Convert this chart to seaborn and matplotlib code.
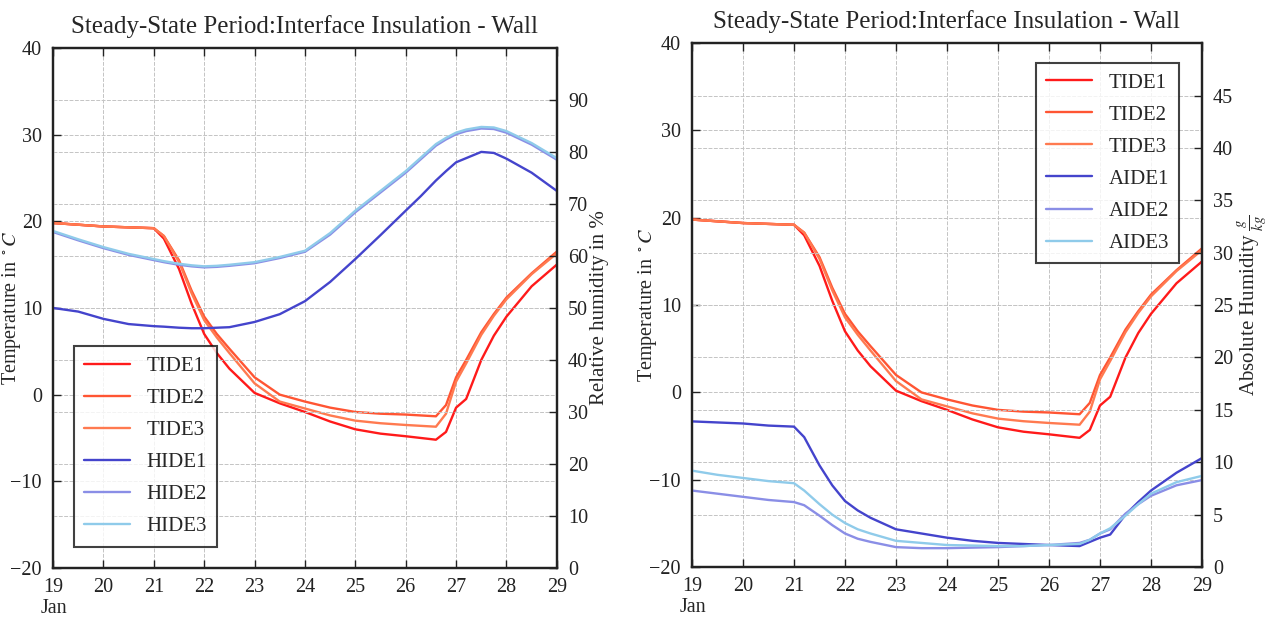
import numpy as np
import pandas as pd
import matplotlib
matplotlib.use("Agg")
import matplotlib.pyplot as plt
import matplotlib.dates as mdates
import seaborn as sns

# sample days in January
days = [19, 19.5, 20, 20.5, 21, 21.2, 21.5, 21.75, 22, 22.25, 22.5, 23, 23.5, 24,
        24.5, 25, 25.5, 26, 26.3, 26.6, 26.8, 27, 27.2, 27.5, 27.75, 28, 28.5, 29]

# interface temperatures (deg C)
tide1 = [19.8, 19.6, 19.4, 19.3, 19.2, 18.0, 14.5, 10.5, 7.0, 4.8, 3.0, 0.2, -1.0, -2.0,
         -3.1, -4.0, -4.5, -4.8, -5.0, -5.2, -4.3, -1.5, -0.5, 4.0, 6.8, 9.0, 12.5, 15.0]
tide2 = [19.8, 19.6, 19.4, 19.3, 19.2, 18.3, 15.5, 12.0, 9.0, 7.0, 5.3, 2.0, 0.0, -0.8,
         -1.5, -2.0, -2.2, -2.3, -2.4, -2.5, -1.2, 2.0, 4.0, 7.2, 9.3, 11.2, 14.0, 16.5]
tide3 = [19.8, 19.6, 19.4, 19.3, 19.2, 18.3, 15.3, 11.7, 8.6, 6.6, 4.8, 1.3, -0.8, -1.6,
         -2.4, -3.0, -3.3, -3.5, -3.6, -3.7, -2.2, 1.5, 3.6, 6.9, 9.1, 11.0, 13.9, 16.3]

# relative humidity (%)
hide1 = [50, 49.3, 47.9, 46.9, 46.5, 46.4, 46.2, 46.1, 46.1, 46.2, 46.3, 47.3, 48.8, 51.3,
         55, 59.4, 64, 68.7, 71.5, 74.5, 76.3, 78, 78.8, 80, 79.8, 78.7, 76, 72.5]
hide2 = [64.6, 63.0, 61.5, 60.2, 59.2, 58.8, 58.3, 58.0, 57.8, 57.9, 58.1, 58.6, 59.6, 60.8,
         64.1, 68.4, 72.2, 76.0, 78.6, 81.2, 82.4, 83.4, 84.0, 84.5, 84.4, 83.7, 81.4, 78.5]
hide3 = [64.8, 63.2, 61.7, 60.4, 59.4, 59, 58.5, 58.2, 58, 58.1, 58.3, 58.8, 59.8, 61,
         64.4, 68.7, 72.5, 76.3, 78.9, 81.5, 82.7, 83.7, 84.3, 84.8, 84.7, 84, 81.7, 78.8]

# absolute humidity (g/kg)
aide1 = [13.9, 13.8, 13.7, 13.5, 13.4, 12.4, 9.7, 7.8, 6.3, 5.4, 4.7, 3.6, 3.2, 2.8,
         2.5, 2.3, 2.2, 2.1, 2.05, 2.0, 2.4, 2.8, 3.1, 5.0, 6.2, 7.3, 9.0, 10.4]
aide2 = [7.3, 7.0, 6.7, 6.4, 6.2, 5.9, 4.9, 4.0, 3.2, 2.7, 2.4, 1.9, 1.8, 1.8,
         1.85, 1.9, 2.0, 2.1, 2.2, 2.3, 2.6, 3.2, 3.6, 5.1, 6.0, 6.8, 7.8, 8.3]
aide3 = [9.2, 8.8, 8.5, 8.2, 8.0, 7.3, 6.0, 5.0, 4.2, 3.6, 3.2, 2.5, 2.3, 2.1,
         2.05, 2.0, 2.0, 2.1, 2.15, 2.2, 2.6, 3.2, 3.7, 4.9, 6.0, 7.0, 8.1, 8.7]

t_colors = ["#ff1a1a", "#ff5533", "#ff7a50"]
h_colors = ["#4444cc", "#8a8ee6", "#8fcbea"]

times = pd.Timestamp("2017-01-01") + pd.to_timedelta(np.array(days) - 1, unit="D")

sns.set_theme(style="ticks")
plt.rcParams["font.family"] = ["Liberation Serif", "DejaVu Serif"]
plt.rcParams["mathtext.fontset"] = "stix"
plt.rcParams["font.size"] = 15

fig = plt.figure(figsize=(12.69, 6.17), dpi=100)
ax1 = fig.add_axes([0.0418, 0.0794, 0.397, 0.843])
ax2 = fig.add_axes([0.5453, 0.081, 0.4019, 0.849])


def style_axes(ax, tw, ylab_x):
    for a in (ax, tw):
        a.grid(True, color="#c4c4c4", linestyle="--", linewidth=0.7, dashes=(4, 1.5))
        a.tick_params(direction="in", length=6, width=1, labelsize=14.5, colors="#222222")
        for s in a.spines.values():
            s.set_linewidth(1.6)
            s.set_color("#222222")
    tw.tick_params(axis="y", pad=8)
    ax.tick_params(axis="y", pad=8)
    ax.tick_params(axis="x", pad=7, top=True)
    ax.set_axisbelow(True)
    ax.set_ylim(-20, 40)
    ax.set_yticks(range(-20, 41, 10))
    ax.set_yticklabels(["\u221220", "\u221210", "0", "10", "20", "30", "40"])
    ax.set_xlim(times[0], times[-1])
    ax.xaxis.set_major_locator(mdates.DayLocator())
    ax.xaxis.set_major_formatter(mdates.DateFormatter("%-d"))
    ax.set_ylabel(r"Temperature in $^\circ C$", fontsize=14.5)
    ax.yaxis.set_label_coords(ylab_x, 0.5)
    ax.set_xlabel("")
    ax.text(-0.024, -0.06, "Jan", transform=ax.transAxes, ha="left", va="top", fontsize=14.5)
    ax.set_title("Steady-State Period:Interface Insulation - Wall", fontsize=18, pad=11)


panels = [
    (ax1, [hide1, hide2, hide3], ["HIDE1", "HIDE2", "HIDE3"], (0, 100), range(0, 91, 10),
     "Relative humidity in %", "lower left", (0.02, 0.021), -0.06),
    (ax2, [aide1, aide2, aide3], ["AIDE1", "AIDE2", "AIDE3"], (0, 50), range(0, 46, 5),
     r"Absolute Humidity $\frac{g}{kg}$", "upper right", (0.976, 0.983), -0.064),
]

for ax, hum, hnames, hlim, hticks, hlabel, loc, anchor, ylab_x in panels:
    tw = ax.twinx()
    for vals, name, c in zip([tide1, tide2, tide3], ["TIDE1", "TIDE2", "TIDE3"], t_colors):
        sns.lineplot(x=times, y=vals, ax=ax, color=c, linewidth=1.7, label=name, legend=False)
    for vals, name, c in zip(hum, hnames, h_colors):
        sns.lineplot(x=times, y=vals, ax=tw, color=c, linewidth=1.7, label=name, legend=False)
    handles = ax.get_lines() + tw.get_lines()
    tw.set_ylim(*hlim)
    tw.set_yticks(list(hticks))
    tw.set_ylabel(hlabel, fontsize=15)
    tw.yaxis.set_label_coords(1.066, 0.5)
    style_axes(ax, tw, ylab_x)
    leg = tw.legend(handles, [h.get_label() for h in handles], loc=loc, bbox_to_anchor=anchor,
                    fontsize=15, frameon=True, fancybox=False, handlelength=2.2,
                    labelspacing=0.6, borderpad=0.5, handletextpad=0.8)
    leg.get_frame().set_edgecolor("#111111")
    leg.get_frame().set_linewidth(1.5)

fig.savefig("out.png", dpi=100)
